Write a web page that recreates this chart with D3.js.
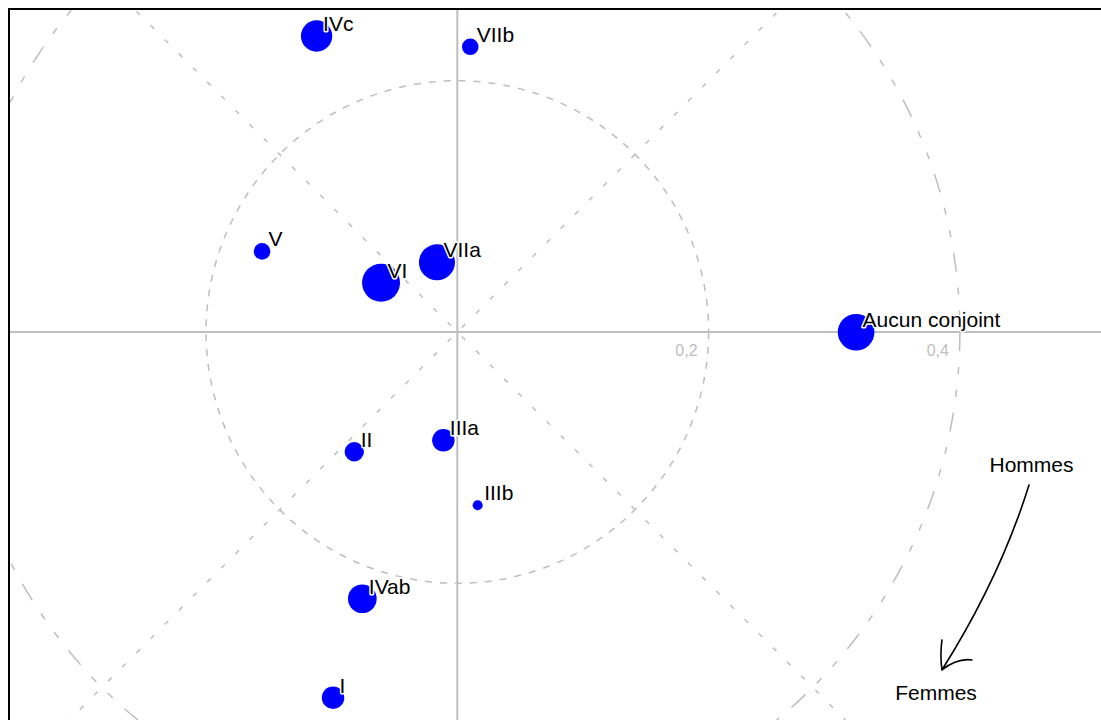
<!DOCTYPE html>
<html>
<head>
<meta charset="utf-8">
<script src="https://cdn.jsdelivr.net/npm/d3@7"></script>
<style>
  html, body { margin: 0; padding: 0; background: #fff; }
  svg { display: block; font-family: "Liberation Sans", Arial, Helvetica, sans-serif; }
</style>
</head>
<body>
<div id="chart"></div>
<script>
// ---- data (coordinates on the two factorial axes, relative mass) ----
const categories = ["IVc", "VIIb", "V", "VI", "VIIa", "Aucun conjoint", "II", "IIIa", "IIIb", "IVab", "I"];
const axis1 = [-0.112, 0.0103, -0.1554, -0.0607, -0.0162, 0.3174, -0.082, -0.0111, 0.0162, -0.0756, -0.0989];
const axis2 = [0.2356, 0.227, 0.0642, 0.0392, 0.0555, -0.0002, -0.0953, -0.0862, -0.1379, -0.2123, -0.291];
const masses = [68, 19, 19, 100, 90, 93, 26, 35, 7, 57, 35];
const ringRadii = [0.2, 0.4];
const tickLabels = ["0,2", "0,4"];
const annotationLabels = ["Hommes", "Femmes"];
const annotationX = [0.457, 0.381];
const annotationY = [-0.1112, -0.2929];
// arrow (start, control, end, head arm 1, head arm 2) in axis units
const arrowX = [0.4550, 0.4319, 0.3857, 0.3857, 0.4096];
const arrowY = [-0.1218, -0.1958, -0.2690, -0.2451, -0.2610];

const W = 1101, H = 720;
const padL = 9, padT = 9;

const x = d3.scaleLinear().domain([-0.3568, 0.5123]).range([padL, W]);
const y = d3.scaleLinear().domain([0.2571, -0.3088]).range([padT, H]);
const r = d3.scaleSqrt().domain([0, 100]).range([0, 19]);
const unit = x(1) - x(0);

const svg = d3.select("#chart").append("svg").attr("width", W).attr("height", H);

svg.append("defs").append("clipPath").attr("id", "plotclip")
  .append("rect").attr("x", padL).attr("y", padT).attr("width", W - padL + 20).attr("height", H - padT + 20);

const g = svg.append("g").attr("clip-path", "url(#plotclip)");
const grey = "#bebebe";

// axes through origin
g.append("line").attr("x1", padL).attr("x2", W + 10).attr("y1", y(0)).attr("y2", y(0))
  .attr("stroke", grey).attr("stroke-width", 2);
g.append("line").attr("x1", x(0)).attr("x2", x(0)).attr("y1", padT).attr("y2", H + 10)
  .attr("stroke", grey).attr("stroke-width", 2);

// diagonals
const L = 2;
[[1, 1], [1, -1]].forEach(([a, b]) => {
  g.append("line")
    .attr("x1", x(-L * a)).attr("y1", y(-L * b))
    .attr("x2", x(L * a)).attr("y2", y(L * b))
    .attr("stroke", grey).attr("stroke-width", 1.5)
    .attr("stroke-dasharray", "5,15");
});

// rings
g.selectAll("circle.ring").data(ringRadii).join("circle")
  .attr("class", "ring")
  .attr("cx", x(0)).attr("cy", y(0))
  .attr("r", d => d * unit)
  .attr("fill", "none").attr("stroke", grey).attr("stroke-width", 1.5)
  .attr("stroke-dasharray", (d, i) => i === 0 ? "7,8" : "19,16,7,16,7,16");

// tick labels
g.selectAll("text.tick").data(ringRadii).join("text")
  .attr("class", "tick")
  .attr("x", d => x(d) - 11).attr("y", y(0) + 24)
  .attr("text-anchor", "end")
  .attr("font-size", 16).attr("fill", grey)
  .text((d, i) => tickLabels[i]);

// points
const pts = categories.map((c, i) => ({ c, x: axis1[i], y: axis2[i], m: masses[i] }));
g.selectAll("circle.pt").data(pts).join("circle")
  .attr("class", "pt")
  .attr("cx", d => x(d.x)).attr("cy", d => y(d.y))
  .attr("r", d => r(d.m))
  .attr("fill", "#0000ff");

g.selectAll("text.lbl").data(pts).join("text")
  .attr("class", "lbl")
  .attr("x", d => x(d.x) + 6.5).attr("y", d => y(d.y) - 5)
  .attr("font-size", 21)
  .attr("fill", "#000")
  .attr("stroke", "#fff").attr("stroke-width", 3).attr("stroke-linejoin", "round")
  .attr("paint-order", "stroke")
  .text(d => d.c);

// annotation arrow
const ap = i => [x(arrowX[i]), y(arrowY[i])];
const p = d3.path();
p.moveTo(...ap(0));
p.quadraticCurveTo(...ap(1), ...ap(2));
p.moveTo(...ap(3));
p.quadraticCurveTo(ap(3)[0] - 2, (ap(3)[1] + ap(2)[1]) / 2, ...ap(2));
p.quadraticCurveTo((ap(2)[0] + ap(4)[0]) / 2, ap(4)[1] - 2, ...ap(4));
g.append("path").attr("d", p.toString())
  .attr("fill", "none").attr("stroke", "#000").attr("stroke-width", 1.6)
  .attr("stroke-linejoin", "round").attr("stroke-linecap", "round");

g.selectAll("text.ann").data(annotationLabels).join("text")
  .attr("class", "ann")
  .attr("x", (d, i) => x(annotationX[i])).attr("y", (d, i) => y(annotationY[i]))
  .attr("text-anchor", "middle").attr("font-size", 21).attr("fill", "#000")
  .text(d => d);

// frame
svg.append("rect").attr("x", padL).attr("y", padT).attr("width", W + 20).attr("height", H + 20)
  .attr("fill", "none").attr("stroke", "#000").attr("stroke-width", 2);
</script>
</body>
</html>
